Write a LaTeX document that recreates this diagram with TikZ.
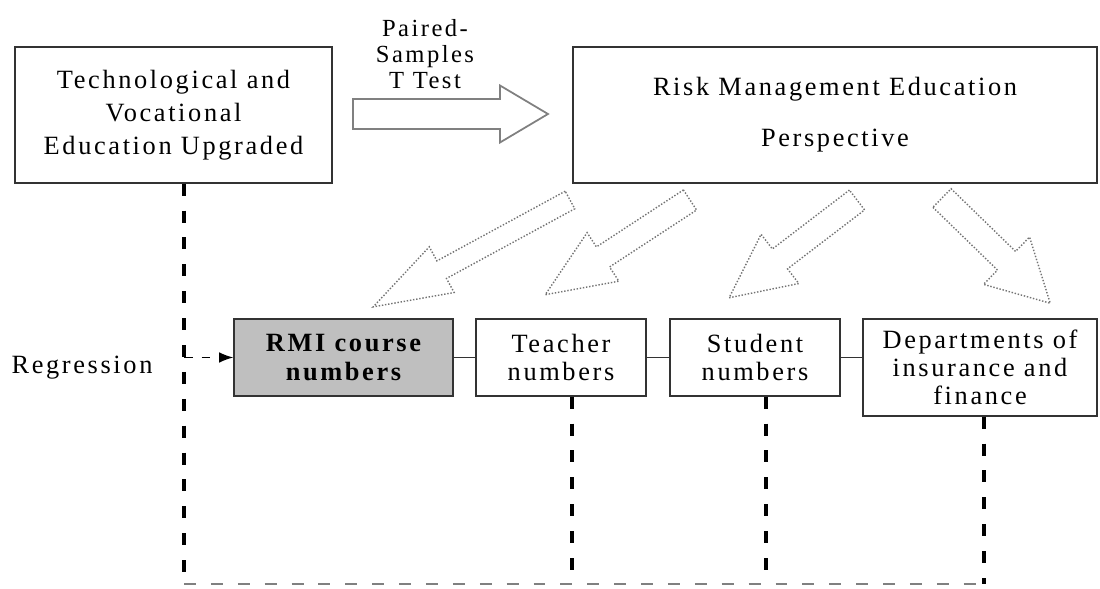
\documentclass[tikz,border=0pt]{standalone}
\usepackage{fontspec}
\setmainfont{Liberation Serif}[LetterSpace=10]
\usepackage{tikz}
\usetikzlibrary{arrows.meta}

\begin{document}
\begin{tikzpicture}[
  box/.style={draw=black!80, line width=0.8pt, fill=white, inner sep=0pt,
    align=center, font=\fontsize{15}{16}\selectfont},
  hollowarrow/.style={draw=black!55, densely dotted, line width=0.8pt, fill=white},
  guide/.style={black, line width=2pt, dash pattern=on 6.8pt off 8.5pt},
  footguide/.style={gray, line width=0.8pt, dash pattern=on 6.8pt off 8.5pt},
  link/.style={black!80, line width=0.8pt}]

\useasboundingbox (0,0) rectangle (22,11.78);

%% ─── Top row ────────────────────────────────────────────────
\node[box, minimum width=6.34cm, minimum height=2.72cm,
  font=\fontsize{15}{18.8}\selectfont] (upgraded) at (3.47,9.48)
  {Technological and\\Vocational\\Education Upgraded};
\node[box, minimum width=10.48cm, minimum height=2.72cm] (rme) at (16.70,9.48)
  {Risk Management Education\\[13pt]Perspective};

%% Paired-samples test arrow
\node[align=center, font=\fontsize{14}{14.8}\selectfont] (ttest) at (8.5,10.70)
  {Paired-\\Samples\\T Test};
\filldraw[fill=white, draw=gray, line width=1pt]
  (7.06,9.20) -- (10.0,9.20) -- (10.0,8.93) -- (10.96,9.50)
  -- (10.0,10.07) -- (10.0,9.80) -- (7.06,9.80) -- cycle;

%% ─── Hollow arrows out of the perspective box ───────────────
\begin{scope}[shift={(11.40,7.78)}, rotate=208.5]
  \draw[hollowarrow] (0,-0.2) -- (2.92,-0.2) -- (2.92,-0.52) -- (4.48,0)
    -- (2.92,0.52) -- (2.92,0.2) -- (0,0.2) -- cycle;
\end{scope}
\begin{scope}[shift={(13.80,7.78)}, rotate=213.2]
  \draw[hollowarrow] (0,-0.24) -- (2.08,-0.24) -- (2.08,-0.58) -- (3.46,0)
    -- (2.08,0.58) -- (2.08,0.24) -- (0,0.24) -- cycle;
\end{scope}
\begin{scope}[shift={(17.14,7.78)}, rotate=217.4]
  \draw[hollowarrow] (0,-0.25) -- (1.94,-0.25) -- (1.94,-0.62) -- (3.22,0)
    -- (1.94,0.62) -- (1.94,0.25) -- (0,0.25) -- cycle;
\end{scope}
\begin{scope}[shift={(18.84,7.82)}, rotate=-44.2]
  \draw[hollowarrow] (0,-0.26) -- (1.80,-0.26) -- (1.80,-0.66) -- (3.02,0)
    -- (1.80,0.66) -- (1.80,0.26) -- (0,0.26) -- cycle;
\end{scope}

%% ─── Bottom row ─────────────────────────────────────────────
\node[box, fill=gray!50, font=\fontsize{15}{16}\selectfont\bfseries,
  minimum width=4.38cm, minimum height=1.54cm] (rmi) at (6.87,4.63)
  {RMI course\\numbers};
\node[box, minimum width=3.40cm, minimum height=1.54cm] (teacher) at (11.22,4.63)
  {Teacher\\numbers};
\node[box, minimum width=3.40cm, minimum height=1.54cm] (student) at (15.10,4.63)
  {Student\\numbers};
\node[box, minimum width=4.68cm, minimum height=1.94cm] (depts) at (19.60,4.43)
  {Departments of\\insurance and\\finance};
\draw[link] (rmi) -- (teacher);
\draw[link] (teacher) -- (student);
\draw[link] (student.east) -- (student.east -| depts.west);

%% Regression
\node[font=\fontsize{15}{16}\selectfont] (regression) at (1.64,4.42) {Regression};

%% ─── Dashed guides ──────────────────────────────────────────
\coordinate (ufoot) at (3.68,0.10);
\coordinate (tfoot) at (11.44,0.10);
\coordinate (sfoot) at (15.32,0.10);
\coordinate (dfoot) at (19.68,0.10);
\draw[footguide] (ufoot) -- (dfoot);
\draw[guide] (upgraded.south -| ufoot) -- (ufoot);
\draw[guide] (teacher.south -| tfoot) -- (tfoot);
\draw[guide] (student.south -| sfoot) -- (sfoot);
\draw[guide] (depts.south -| dfoot) -- (dfoot);
\draw[black, line width=0.8pt, dash pattern=on 5pt off 5pt,
  -{Latex[length=8pt, width=6pt]}] (rmi.west -| ufoot) -- (rmi.west);

\end{tikzpicture}
\end{document}
